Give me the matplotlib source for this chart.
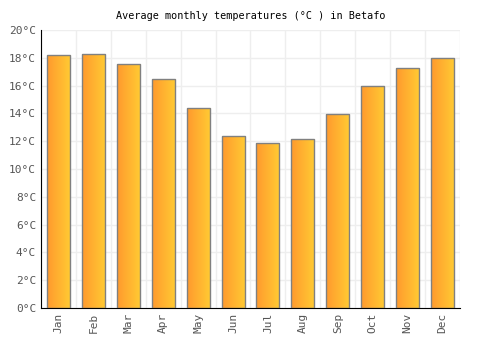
import numpy as np
import matplotlib.pyplot as plt
from matplotlib.colors import LinearSegmentedColormap

months = ['Jan', 'Feb', 'Mar', 'Apr', 'May', 'Jun', 'Jul', 'Aug', 'Sep', 'Oct', 'Nov', 'Dec']
temps = [18.2, 18.3, 17.55, 16.5, 14.4, 12.37, 11.87, 12.16, 13.95, 15.97, 17.27, 17.99]
yticks = list(range(0, 21, 2))

plt.rcParams['font.family'] = 'DejaVu Sans Mono'

fig = plt.figure(figsize=(5, 3.5), dpi=100)
ax = fig.add_axes([0.082, 0.12, 0.838, 0.794])

x = np.arange(len(months))
bars = ax.bar(x, temps, width=0.66, facecolor='none', edgecolor='#808080', linewidth=1, zorder=3)

# horizontal orange gradient inside each bar
cmap = LinearSegmentedColormap.from_list('orange', ['#ff9a2e', '#ffcb33'])
grad = np.linspace(0, 1, 64).reshape(1, -1)
for b in bars:
    bx, by = b.get_x(), b.get_y()
    w, h = b.get_width(), b.get_height()
    im = ax.imshow(grad, cmap=cmap, aspect='auto', extent=[bx, bx + w, by, by + h], zorder=2)
    im.set_clip_path(b)

ax.set_xlim(-0.5, len(months) - 0.5)
ax.set_ylim(0, 20)
ax.set_xticks(x)
ax.set_xticklabels(months, rotation=90, fontsize=8, color='#555555')
ax.set_yticks(yticks)
ax.set_yticklabels([f'{t}°C' for t in yticks], fontsize=8, color='#555555')
ax.set_xticks(np.arange(-0.5, len(months), 1), minor=True)
ax.tick_params(axis='both', length=0)
ax.tick_params(axis='x', which='minor', length=0)
ax.grid(axis='y', color='#eeeeee', linewidth=1, zorder=0)
ax.grid(axis='x', which='minor', color='#eeeeee', linewidth=1, zorder=0)
ax.grid(axis='x', which='major', visible=False)
ax.set_axisbelow(True)

for s in ['top', 'right']:
    ax.spines[s].set_visible(False)
ax.spines['left'].set_color('black')
ax.spines['bottom'].set_color('black')

ax.set_title('Average monthly temperatures (°C ) in Betafo', fontsize=7.3, pad=8)

fig.savefig('out.png', dpi=100)
